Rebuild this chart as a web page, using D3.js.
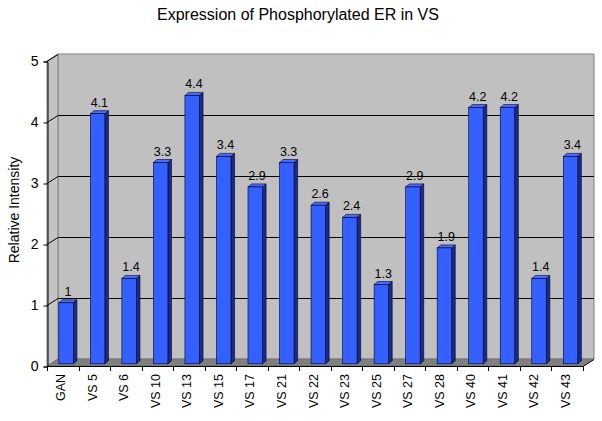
<!DOCTYPE html>
<html><head><meta charset="utf-8">
<script src="https://cdn.jsdelivr.net/npm/d3@7"></script>
<style>body{margin:0;background:#fff}svg{display:block}text{font-family:"Liberation Sans",Arial,sans-serif;fill:#000}</style>
</head><body><svg id="c" width="602" height="421"></svg>
<script>
const categories = ["GAN","VS 5","VS 6","VS 10","VS 13","VS 15","VS 17","VS 21","VS 22","VS 23","VS 25","VS 27","VS 28","VS 40","VS 41","VS 42","VS 43"];
const values = [1, 4.1, 1.4, 3.3, 4.4, 3.4, 2.9, 3.3, 2.6, 2.4, 1.3, 2.9, 1.9, 4.2, 4.2, 1.4, 3.4];
const yTicks = [0, 1, 2, 3, 4, 5];
const title = "Expression of Phosphorylated ER in VS";
const yTitle = "Relative Intensity";

const svg = d3.select("#c");
const DX = 11, DY = -7;           // wall depth
const x = d3.scaleBand().domain(categories).range([47, 583]);
const y = d3.scaleLinear().domain([0, 5]).range([366, 61]);
const g = svg.append("g");
const h = 0.5; // crisp offset

// back wall
g.append("polygon").attr("points", [[47+DX, y(5)+DY],[583+DX, y(5)+DY],[583+DX, y(0)+DY],[47+DX, y(0)+DY]].join(" "))
  .attr("fill", "#c0c0c0").attr("stroke", "#808080").attr("stroke-width", 1);
// left wall
g.append("polygon").attr("points", [[47, y(5)],[47+DX, y(5)+DY],[47+DX, y(0)+DY],[47, y(0)]].join(" "))
  .attr("fill", "#c4c4c4").attr("stroke", "#808080").attr("stroke-width", 1);
// floor
g.append("polygon").attr("points", [[47, y(0)],[47+DX, y(0)+DY],[583+DX, y(0)+DY],[583, y(0)]].join(" "))
  .attr("fill", "#808080").attr("stroke", "#606060").attr("stroke-width", 0.5);

// gridlines
yTicks.filter(t => t > 0 && t < 5).forEach(t => {
  g.append("line").attr("x1", 47+DX).attr("x2", 583+DX).attr("y1", y(t)+DY+h).attr("y2", y(t)+DY+h)
    .attr("stroke", "#000").attr("stroke-width", 1);
});
yTicks.filter(t => t > 0).forEach(t => {
  g.append("line").attr("x1", 47).attr("x2", 47+DX).attr("y1", y(t)+h).attr("y2", y(t)+DY+h)
    .attr("stroke", "#000").attr("stroke-width", 1);
});

// y axis
const yAxis = g.append("g").attr("transform", "translate(47.5,0.5)")
  .call(d3.axisLeft(y).tickValues(yTicks).tickSize(4).tickPadding(5).tickFormat(d3.format("d")));
yAxis.select(".domain").attr("stroke", "#000");
yAxis.selectAll("text").attr("font-size", 14).attr("font-family", "Liberation Sans, Arial, sans-serif");

// x axis line + ticks at band boundaries
g.append("line").attr("x1", 47).attr("x2", 583).attr("y1", y(0)+h).attr("y2", y(0)+h).attr("stroke", "#000");
g.append("line").attr("x1", 583).attr("x2", 583+DX).attr("y1", y(0)+h).attr("y2", y(0)+DY+h).attr("stroke", "#000");
categories.forEach((c, i) => {
  const xx = Math.round(x(c) + x.bandwidth()) + h;
  g.append("line").attr("x1", xx).attr("x2", xx).attr("y1", y(0)).attr("y2", y(0)+5).attr("stroke", "#000");
});
g.append("line").attr("x1", 47+h).attr("x2", 47+h).attr("y1", y(0)).attr("y2", y(0)+5).attr("stroke", "#000");

// bars
const bx = 3.3, by = -2.2;     // bar front plane offset
const bdx = 3.6, bdy = -3;     // bar depth
const bw = x.bandwidth() * 0.46;
categories.forEach((c, i) => {
  const v = values[i];
  const x0 = x(c) + x.bandwidth()/2 - bw/2 + bx;
  const x1 = x0 + bw;
  const yt = y(v) + by, yb = y(0) + by;
  const bar = g.append("g");
  bar.append("polygon").attr("points", [[x1, yt],[x1+bdx, yt+bdy],[x1+bdx, yb+bdy],[x1, yb]].join(" "))
    .attr("fill", "#1c2a8a").attr("stroke", "#000022").attr("stroke-width", 0.6);
  bar.append("polygon").attr("points", [[x0, yt],[x0+bdx, yt+bdy],[x1+bdx, yt+bdy],[x1, yt]].join(" "))
    .attr("fill", "#4a6cff").attr("stroke", "#000022").attr("stroke-width", 0.6);
  bar.append("rect").attr("x", x0).attr("y", yt).attr("width", bw).attr("height", yb - yt)
    .attr("fill", "#3360ff").attr("stroke", "#000022").attr("stroke-width", 0.6);
  g.append("text").attr("x", (x0 + x1 + bdx)/2).attr("y", yt + bdy - 4)
    .attr("text-anchor", "middle").attr("font-size", 12.5).text(d3.format(".1~f")(v));
});

// category labels
categories.forEach(c => {
  const cx = x(c) + x.bandwidth()/2 + 2.5;
  g.append("text").attr("transform", `translate(${cx},374) rotate(-90)`)
    .attr("text-anchor", "end").attr("font-size", 12.5).text(c);
});

// titles
svg.append("text").attr("x", 298).attr("y", 20).attr("text-anchor", "middle").attr("font-size", 16).text(title);
svg.append("text").attr("transform", "translate(19,210) rotate(-90)").attr("text-anchor", "middle").attr("font-size", 14).text(yTitle);
</script></body></html>
